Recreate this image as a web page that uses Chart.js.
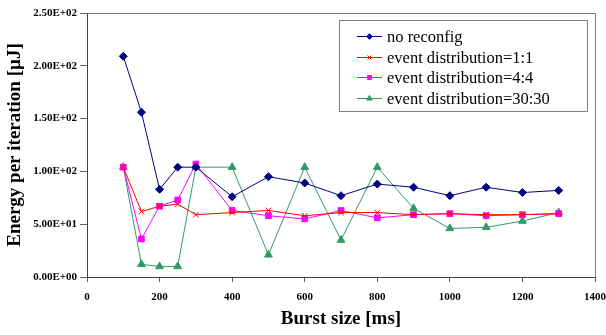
<!DOCTYPE html>
<html>
<head>
<meta charset="utf-8">
<script src="https://cdn.jsdelivr.net/npm/chart.js@4/dist/chart.umd.min.js"></script>
<style>
    html, body { margin: 0; padding: 0; background: #fff; }
    #wrap { width: 606px; height: 335px; }
</style>
</head>
<body>
<div id="wrap"><canvas id="energyChart" width="606" height="335"></canvas></div>
<script>
// Data
const burstSizes = [100, 150, 200, 250, 300, 400, 500, 600, 700, 800, 900, 1000, 1100, 1200, 1300];
const noReconfig = [209, 156, 83, 104, 104, 76, 95, 89, 77, 88, 85, 77, 85, 80, 82];
const dist1to1 = [104, 62, 67, 69, 59, 61, 63, 58, 61, 61, 59, 60, 59, 59, 60];
const dist4to4 = [104, 36, 67, 73, 107, 63, 58, 55, 63, 56, 59, 60, 58, 59, 60];
const dist30to30 = [104, 12, 10, 10, 104, 104, 21, 104, 35, 104, 65, 46, 47, 53, 61];
const seriesNames = ['no reconfig', 'event distribution=1:1', 'event distribution=4:4', 'event distribution=30:30'];
const yTickLabels = ['0.00E+00', '5.00E+01', '1.00E+02', '1.50E+02', '2.00E+02', '2.50E+02'];

const serif = '"Liberation Serif", "Times New Roman", serif';

function toPoints(values) {
    return values.map((v, i) => ({ x: burstSizes[i], y: v }));
}

function makeSeries(label, values, color, style, radius) {
    return {
        label: label,
        data: toPoints(values),
        borderColor: color,
        backgroundColor: color,
        borderWidth: 1,
        pointStyle: style,
        pointRadius: radius,
        pointBorderWidth: 1,
        pointBorderColor: color,
        pointBackgroundColor: color,
        tension: 0
    };
}

// Gray frame on top and right of the plot area
const plotFrame = {
    id: 'plotFrame',
    beforeDatasetsDraw(chart) {
        const ctx = chart.ctx, a = chart.chartArea;
        ctx.save();
        ctx.strokeStyle = '#808080';
        ctx.lineWidth = 1;
        ctx.beginPath();
        ctx.moveTo(Math.round(a.left) + 0.5, Math.round(a.top) + 0.5);
        ctx.lineTo(Math.round(a.right) + 0.5, Math.round(a.top) + 0.5);
        ctx.lineTo(Math.round(a.right) + 0.5, Math.round(a.bottom) + 0.5);
        ctx.stroke();
        ctx.restore();
    }
};

// Boxed legend inside the plot, like the original
const legendBox = {
    id: 'legendBox',
    afterDraw(chart) {
        const ctx = chart.ctx, a = chart.chartArea;
        const w = 248, h = 91;
        const right = Math.round(a.right) - 8;
        const top = Math.round(a.top) + 7;
        const left = right - w;
        ctx.save();
        ctx.fillStyle = '#fff';
        ctx.fillRect(left, top, w, h);
        ctx.strokeStyle = '#808080';
        ctx.lineWidth = 1;
        ctx.strokeRect(left + 0.5, top + 0.5, w, h);
        ctx.font = '16.5px ' + serif;
        ctx.textBaseline = 'middle';
        chart.data.datasets.forEach((ds, i) => {
            const y = Math.round(top + 16 + i * 20.7) + 0.5;
            ctx.strokeStyle = ds.borderColor;
            ctx.lineWidth = 1;
            ctx.beginPath();
            ctx.moveTo(left + 18, y);
            ctx.lineTo(left + 43, y);
            ctx.stroke();
            ctx.fillStyle = ds.borderColor;
            if (Chart.helpers && Chart.helpers.drawPoint) {
                Chart.helpers.drawPoint(ctx, {
                    pointStyle: ds.pointStyle,
                    radius: ds.pointRadius * 0.7,
                    rotation: 0,
                    borderWidth: 1
                }, left + 30.5, y);
            }
            ctx.fillStyle = '#000';
            ctx.fillText(ds.label, left + 48, y + 1);
        });
        ctx.restore();
    }
};

new Chart(document.getElementById('energyChart').getContext('2d'), {
    type: 'line',
    data: {
        datasets: [
            makeSeries(seriesNames[0], noReconfig, '#000080', 'rectRot', 4),
            makeSeries(seriesNames[1], dist1to1, '#ff0000', 'crossRot', 4),
            makeSeries(seriesNames[2], dist4to4, '#ff00ff', 'rect', 4),
            makeSeries(seriesNames[3], dist30to30, '#339966', 'triangle', 4.5)
        ]
    },
    options: {
        responsive: false,
        animation: false,
        devicePixelRatio: 1,
        layout: { padding: { top: 13, right: 11, left: 0, bottom: 0 } },
        plugins: {
            legend: { display: false },
            tooltip: { enabled: false }
        },
        scales: {
            x: {
                type: 'linear',
                min: 0,
                max: 1400,
                ticks: {
                    stepSize: 200,
                    color: '#000',
                    font: { family: serif, size: 11, weight: 'bold' },
                    padding: 9,
                    maxRotation: 0,
                    callback: value => String(value)
                },
                grid: {
                    drawOnChartArea: false,
                    tickLength: 5,
                    color: '#606060'
                },
                border: { color: '#404040', width: 1 },
                title: {
                    display: true,
                    text: 'Burst size [ms]',
                    color: '#000',
                    font: { family: serif, size: 19, weight: 'bold' },
                    padding: { top: 0, bottom: 5 }
                },
                afterFit(scale) {
                    scale.height = 58;
                    scale.paddingLeft = 0;
                    scale.paddingRight = 0;
                }
            },
            y: {
                min: 0,
                max: 250,
                ticks: {
                    stepSize: 50,
                    color: '#000',
                    font: { family: serif, size: 11, weight: 'bold' },
                    padding: 3,
                    callback: (value, index) => yTickLabels[index]
                },
                grid: {
                    drawOnChartArea: false,
                    tickLength: 7,
                    color: '#606060'
                },
                border: { color: '#404040', width: 1 },
                title: {
                    display: true,
                    text: 'Energy per iteration [µJ]',
                    color: '#000',
                    font: { family: serif, size: 19, weight: 'bold' },
                    padding: { top: 4, bottom: 0 }
                },
                afterFit(scale) {
                    scale.width = 87;
                    scale.paddingTop = 0;
                    scale.paddingBottom = 0;
                }
            }
        }
    },
    plugins: [plotFrame, legendBox]
});
</script>
</body>
</html>
